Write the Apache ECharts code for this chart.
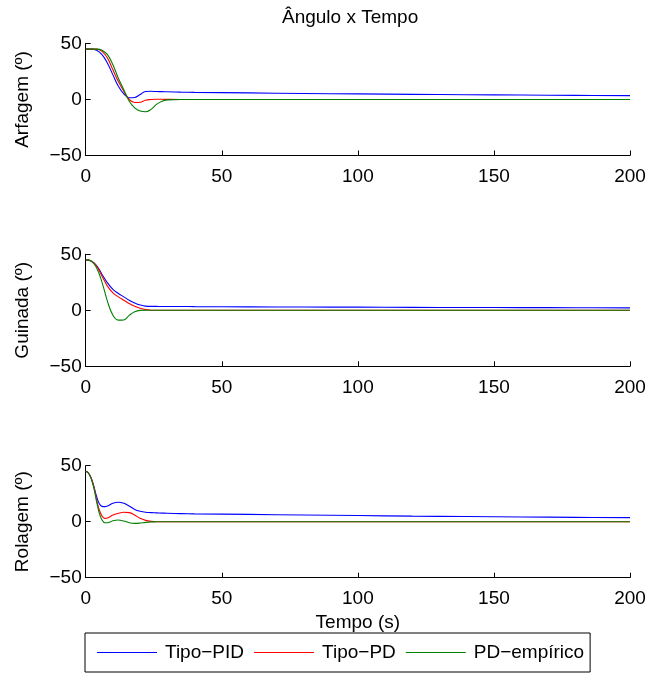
<!DOCTYPE html>
<html>
<head>
<meta charset="utf-8">
<script src="https://cdn.jsdelivr.net/npm/echarts@6/dist/echarts.min.js"></script>
<style>html,body{margin:0;padding:0;background:#fff}#c{width:651px;height:675px}</style>
</head>
<body>
<div id="c"></div>
<script>
// ---- data ----
var seriesNames = ['Tipo−PID', 'Tipo−PD', 'PD−empírico'];
var panelNames = ['Arfagem (º)', 'Guinada (º)', 'Rolagem (º)'];
var xTicks = [0, 50, 100, 150, 200];
var yTicks = [-50, 0, 50];

// Arfagem
var tArf = [0, 2, 4, 6, 8, 10, 12, 14, 16, 18, 20, 22, 24, 26, 28, 30, 35, 40, 60, 80, 100, 120, 140, 160, 180, 200];
var arfPID = [45, 45, 44, 40, 32.4, 22, 11.8, 5, 1.5, 1.8, 4.4, 7.2, 7.3, 7.1, 7, 6.9, 6.6, 6.4, 5.9, 5.4, 5, 4.6, 4.3, 4, 3.7, 3.5];
var arfPD = [45, 45, 45, 43, 37, 26.5, 16, 7.4, 0, -2.7, -2.4, -0.6, 0, 0.2, 0.2, 0.1, 0, 0, 0, 0, 0, 0, 0, 0, 0, 0];
var arfEmp = [45, 45, 45, 44, 40, 31, 19, 8.8, -1.5, -7.4, -10.3, -11, -8.8, -4.4, -1.5, -0.3, 0, 0, 0, 0, 0, 0, 0, 0, 0, 0];

// Guinada
var tGui = [0, 2, 4, 6, 8, 10, 12, 14, 16, 18, 20, 22, 24, 26, 28, 30, 35, 40, 60, 80, 100, 120, 140, 160, 180, 200];
var guiPID = [45, 44, 40, 32, 24.5, 18.6, 15, 12, 9, 6.6, 4.8, 3.7, 3.5, 3.5, 3.4, 3.4, 3.4, 3.3, 3.1, 2.9, 2.8, 2.6, 2.5, 2.4, 2.3, 2.2];
var guiPD = [45, 44, 39.5, 30.5, 21.6, 15.6, 12, 9, 6, 3.6, 1.8, 0.6, 0.1, 0, 0, 0, 0, 0, 0, 0, 0, 0, 0, 0, 0, 0];
var guiEmp = [45, 44, 38, 25, 8, -4.5, -8.8, -8.6, -4.5, -1.3, -0.1, 0, 0, 0, 0, 0, 0, 0, 0, 0, 0, 0, 0, 0, 0, 0];

// Rolagem
var tRol = [0, 1, 2, 3, 4, 5, 6, 7, 8, 10, 12, 14, 16, 18, 20, 22, 24, 26, 28, 30, 35, 40, 60, 80, 100, 120, 140, 160, 180, 200];
var rolPID = [45, 43.5, 39, 31.5, 22.5, 16, 13.7, 13.5, 14, 16.5, 17.4, 16.5, 14, 11, 9.3, 8.4, 8.1, 7.9, 7.7, 7.5, 7.2, 7, 6.5, 6, 5.5, 5, 4.6, 4.2, 3.9, 3.6];
var rolPD = [45, 43.5, 39, 31, 19.5, 10.5, 5, 3, 3.3, 6, 7.5, 8.4, 8.1, 6, 3, 1.2, 0.3, 0, 0, 0, 0, 0, 0, 0, 0, 0, 0, 0, 0, 0];
var rolEmp = [45, 43.5, 38.5, 30, 18, 7.5, 1.5, -0.9, -0.9, 0.9, 1.5, 0.6, -0.9, -1.5, -1.2, -0.6, -0.3, 0, 0, 0, 0, 0, 0, 0, 0, 0, 0, 0, 0, 0];

// ---- chart ----
var FONT = "'Liberation Sans', Arial, sans-serif";
var colors = ['#0000ff', '#ff0000', '#008000'];
var panels = [
  {t: tArf, v: [arfPID, arfPD, arfEmp]},
  {t: tGui, v: [guiPID, guiPD, guiEmp]},
  {t: tRol, v: [rolPID, rolPD, rolEmp]}
];
var gridTops = [43.5, 254.3, 465.7];
function zip(t, v) { return t.map(function (x, i) { return [x, v[i]]; }); }
function fmtNum(v) { return v < 0 ? '−' + Math.abs(v) : String(v); }

var grids = [], xAxes = [], yAxes = [], series = [];
panels.forEach(function (p, k) {
  grids.push({left: 85.7, right: 21, top: gridTops[k], height: 112, containLabel: false});
  xAxes.push({
    type: 'value', gridIndex: k, min: xTicks[0], max: xTicks[xTicks.length - 1], interval: 50,
    axisLine: {show: true, onZero: false, lineStyle: {color: '#000', width: 1}},
    axisTick: {show: true, inside: true, length: 5, lineStyle: {color: '#000'}},
    axisLabel: {color: '#000', fontSize: 19, fontFamily: FONT, margin: 12, formatter: fmtNum},
    splitLine: {show: false},
    name: k === 2 ? 'Tempo (s)' : '', nameLocation: 'middle', nameGap: 36,
    nameTextStyle: {color: '#000', fontSize: 19, fontFamily: FONT}
  });
  yAxes.push({
    type: 'value', gridIndex: k, min: yTicks[0], max: yTicks[yTicks.length - 1], interval: 50,
    axisLine: {show: true, onZero: false, lineStyle: {color: '#000', width: 1}},
    axisTick: {show: true, inside: true, length: 5, lineStyle: {color: '#000'}},
    axisLabel: {color: '#000', fontSize: 19, fontFamily: FONT, margin: 4, formatter: fmtNum},
    splitLine: {show: false},
    name: panelNames[k], nameLocation: 'middle', nameGap: 53,
    nameTextStyle: {color: '#000', fontSize: 19, fontFamily: FONT}
  });
  p.v.forEach(function (vals, s) {
    series.push({
      type: 'line', name: seriesNames[s], xAxisIndex: k, yAxisIndex: k,
      data: zip(p.t, vals), showSymbol: false, symbol: 'none', smooth: 0.4,
      lineStyle: {color: colors[s], width: 1.1}, itemStyle: {color: colors[s]}
    });
  });
});

var chart = echarts.init(document.getElementById('c'), null, {renderer: 'canvas'});
chart.setOption({
  animation: false,
  backgroundColor: '#fff',
  title: {text: 'Ângulo x Tempo', left: 282, top: 8, padding: 0,
    textStyle: {color: '#000', fontSize: 19, fontWeight: 'normal', fontFamily: FONT}},
  legend: {
    data: seriesNames, left: 85, top: 633, orient: 'horizontal',
    padding: [10, 6, 10, 12], itemGap: 10, itemWidth: 60, itemHeight: 1.2, icon: 'rect',
    borderColor: '#000', borderWidth: 1, borderRadius: 0,
    textStyle: {color: '#000', fontSize: 19, fontFamily: FONT, padding: [0, 0, 0, 3]}
  },
  grid: grids, xAxis: xAxes, yAxis: yAxes, series: series
});
</script>
</body>
</html>
